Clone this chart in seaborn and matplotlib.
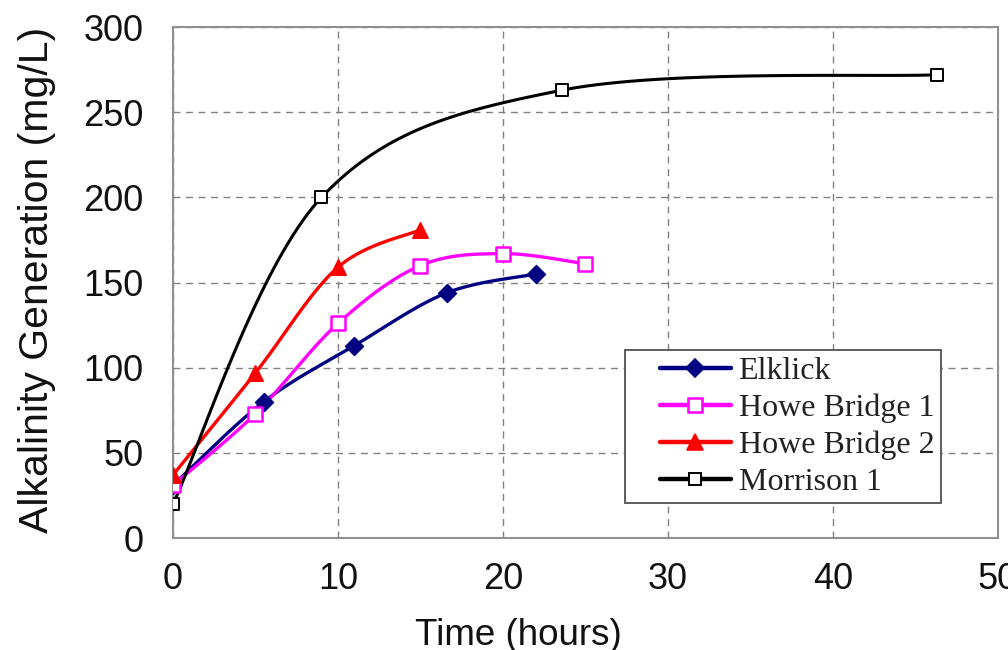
import numpy as np
import pandas as pd
import matplotlib
matplotlib.use("Agg")
import matplotlib.pyplot as plt
from matplotlib.lines import Line2D
from matplotlib.legend_handler import HandlerLine2D
import seaborn as sns

# ---- data ----
series_names = ["Elklick", "Howe Bridge 1", "Howe Bridge 2", "Morrison 1"]
elk_x = [0, 5.5, 11, 16.6, 22]
elk_y = [31, 80, 113, 144, 155]
hb1_x = [0, 5, 10, 15, 20, 25]
hb1_y = [31, 73, 126, 160, 167, 161]
hb2_x = [0, 5, 10, 15]
hb2_y = [37, 97, 159, 181]
mor_x = [0, 9, 23.6, 46.3]
mor_y = [20, 200, 263, 272]
x_ticks = [0, 10, 20, 30, 40, 50]
y_ticks = [0, 50, 100, 150, 200, 250, 300]

sns.set_theme(style="white")
plt.rcParams["font.family"] = ["Liberation Sans", "DejaVu Sans"]

fig = plt.figure(figsize=(10.08, 6.5), dpi=100)
ax = fig.add_axes([0.1716, 0.1723, 0.8185, 0.786])

SX, SY = 16.5, 1.7  # screen scale for Excel-like smoothing


def smooth(xs, ys, n=40):
    """Excel-style smoothed line (Catmull-Rom Bezier) through the data points."""
    p = np.column_stack([np.asarray(xs, float) * SX, np.asarray(ys, float) * SY])
    m = len(p)
    out = []
    for i in range(m - 1):
        p0 = p[i - 1] if i > 0 else p[i]
        p1 = p[i]
        p2 = p[i + 1]
        p3 = p[i + 2] if i + 2 < m else p[i + 1]
        c1 = p1 + (p2 - p0) / 6.0
        c2 = p2 - (p3 - p1) / 6.0
        t = np.linspace(0, 1, n, endpoint=(i == m - 2))[:, None]
        b = ((1 - t) ** 3) * p1 + 3 * ((1 - t) ** 2) * t * c1 + 3 * (1 - t) * t ** 2 * c2 + t ** 3 * p2
        out.append(b)
    out = np.vstack(out)
    return out[:, 0] / SX, out[:, 1] / SY


styles = {
    "Elklick": dict(color="#000080", marker="D", ms=9, mfc="#000080", mec="#000080", lw=2.4, mew=1.2),
    "Howe Bridge 1": dict(color="#FF00FF", marker="s", ms=10, mfc="white", mec="#FF00FF", lw=2.4, mew=1.8),
    "Howe Bridge 2": dict(color="#FF0000", marker="^", ms=11, mfc="#FF0000", mec="#FF0000", lw=2.4, mew=1.2),
    "Morrison 1": dict(color="#000000", marker="s", ms=8, mfc="white", mec="#000000", lw=2.2, mew=1.4),
}
data = {
    "Elklick": (elk_x, elk_y),
    "Howe Bridge 1": (hb1_x, hb1_y),
    "Howe Bridge 2": (hb2_x, hb2_y),
    "Morrison 1": (mor_x, mor_y),
}

for name in series_names:
    xs, ys = data[name]
    st = styles[name]
    sx, sy = smooth(xs, ys)
    curve = pd.DataFrame({"x": sx, "y": sy})
    sns.lineplot(data=curve, x="x", y="y", ax=ax, color=st["color"], lw=st["lw"],
                 sort=False, estimator=None, zorder=3)
    pts = pd.DataFrame({"x": xs, "y": ys})
    sns.scatterplot(data=pts, x="x", y="y", ax=ax, marker=st["marker"],
                    s=st["ms"] ** 2, color=st["mfc"], edgecolor=st["mec"],
                    linewidth=st["mew"], zorder=4)

ax.set_xlim(0, 50)
ax.set_ylim(0, 300)
ax.set_xticks(x_ticks)
ax.set_yticks(y_ticks)
ax.grid(True, color="#808080", linestyle=(0, (5, 4)), linewidth=1.0)
for s in ax.spines.values():
    s.set_color("#909090")
    s.set_linewidth(1.5)
ax.tick_params(axis="both", direction="out", length=7, width=1.2, color="#909090",
               labelsize=26, labelcolor="#111111")
ax.tick_params(axis="y", pad=14)
ax.tick_params(axis="x", pad=10)

ax.set_xlabel("Time (hours)", fontsize=26.5, color="#111111")
ax.set_ylabel("Alkalinity Generation (mg/L)", fontsize=29.5, color="#111111")
ax.xaxis.set_label_coords(0.419, -0.157)
ax.yaxis.set_label_coords(-0.142, 0.505)

handles = []
for name in series_names:
    st = styles[name]
    handles.append(Line2D([], [], color=st["color"], lw=3.2, marker=st["marker"],
                          ms=st["ms"], mfc=st["mfc"], mec=st["mec"], mew=st["mew"]))
hmap = {h: HandlerLine2D(xpad=0.9) for h in handles}
leg = ax.legend(handles, series_names, loc="upper left", bbox_to_anchor=(0.548, 0.368),
                borderaxespad=0, frameon=True, fancybox=False, framealpha=1,
                edgecolor="#505050", prop={"family": "Liberation Serif", "size": 23},
                handlelength=3.1, handletextpad=0.25, labelspacing=0.24,
                borderpad=0.2, handler_map=hmap)
leg.get_frame().set_linewidth(1.3)
for t in leg.get_texts():
    t.set_color("#222222")

fig.savefig("out.png", dpi=100)
